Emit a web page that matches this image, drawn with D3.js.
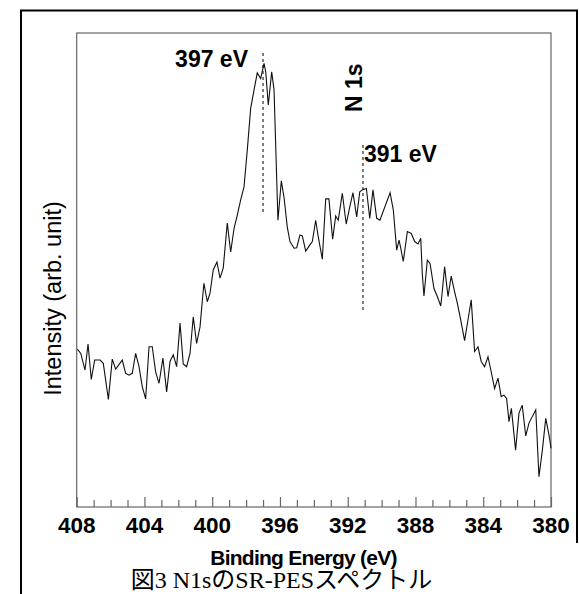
<!DOCTYPE html>
<html>
<head>
<meta charset="utf-8">
<script src="https://cdn.jsdelivr.net/npm/d3@7"></script>
<style>
html,body{margin:0;padding:0;background:#fff;}
svg{display:block;}
</style>
</head>
<body>
<svg id="chart" width="579" height="594"></svg>
<script>
// Binding energy (eV) of each measured point
const energy = [407.96,407.76,407.51,407.33,407.14,406.94,406.62,406.43,406.13,405.90,
405.70,405.31,405.11,404.91,404.72,404.52,404.32,404.13,403.93,403.73,
403.54,403.34,403.14,402.91,402.69,402.49,402.30,402.10,401.90,401.71,
401.51,401.31,401.12,400.92,400.72,400.49,400.29,400.13,399.94,399.72,
399.54,399.35,399.11,398.91,398.71,398.52,398.32,398.12,397.93,397.73,
397.53,397.34,397.14,396.94,396.84,396.69,396.49,396.35,396.12,395.92,
395.76,395.57,395.41,395.17,395.01,394.82,394.68,394.48,394.23,394.09,
393.89,393.74,393.50,393.30,393.11,392.89,392.71,392.56,392.32,392.09,
391.88,391.69,391.47,391.29,391.14,390.90,390.70,390.51,390.29,390.10,
389.50,389.31,389.11,388.97,388.87,388.72,388.48,388.25,388.05,387.85,
387.69,387.60,387.50,387.30,387.14,386.91,386.71,386.51,386.42,386.28,
386.18,386.08,385.89,385.69,385.53,385.33,385.10,384.90,384.71,384.51,
384.31,384.12,383.92,383.72,383.53,383.33,383.13,382.94,382.78,382.62,
382.48,382.34,382.09,381.89,381.70,381.49,381.30,380.90,380.71,380.51,
380.31,380.12,380.00];
// Intensity (arb. unit)
const intensity = [33.3,32.4,28.9,34.4,26.9,31.0,31.0,30.3,22.7,31.2,
29.1,31.0,28.2,27.8,28.2,32.4,29.6,25.4,22.8,33.8,
33.8,28.5,26.1,31.4,24.3,30.7,32.1,29.6,38.8,30.2,
29.6,32.4,40.1,34.5,38.0,47.2,43.3,45.1,50.0,51.7,
48.3,50.4,59.9,53.8,58.8,61.6,64.8,67.6,75.3,84.1,
88.0,91.6,90.4,93.6,91.8,84.8,91.8,88.0,60.5,68.8,
65.3,59.1,56.0,54.6,54.7,57.4,57.2,54.0,55.3,56.0,
60.5,57.0,52.3,65.0,65.0,56.5,61.4,60.5,66.2,59.7,
63.3,66.3,61.2,66.5,66.9,67.2,60.9,66.9,60.9,60.5,
66.3,62.7,54.2,56.3,54.6,51.8,58.1,57.7,56.0,55.5,
56.7,49.3,44.5,52.1,51.4,46.1,44.4,42.4,45.4,50.7,
47.5,44.4,48.7,45.4,43.0,39.5,35.1,39.5,43.7,32.8,
33.8,30.7,29.6,31.7,28.5,25.0,27.2,23.3,23.6,22.9,
18.0,20.8,12.0,19.8,21.5,15.0,17.7,20.5,6.4,12.0,
18.7,15.2,12.4];
const xTickLabels = [408,404,400,396,392,388,384,380];
const peakLabels = ["397 eV","391 eV"];
const peakEnergies = [397, 391.1];
const xLabel = "Binding Energy (eV)";
const yLabel = "Intensity (arb. unit)";
const specLabel = "N 1s";
const caption = "図3 N1sのSR-PESスペクトル";

const svg = d3.select("#chart");
const L = 76.7, R = 551, T = 33, B = 507;
const x = d3.scaleLinear().domain([408, 380]).range([L, R]);
const y = d3.scaleLinear().domain([0, 100]).range([B, T]);

// outer frame
svg.append("path").attr("d", "M21,594 L21,10.5 L577,10.5 L577,543")
  .attr("fill", "none").attr("stroke", "#000").attr("stroke-width", 2);

// plot box
svg.append("rect").attr("x", L).attr("y", T).attr("width", R - L).attr("height", B - T)
  .attr("fill", "none").attr("stroke", "#666").attr("stroke-width", 1.2);

// ticks (inside, pointing up)
const minor = d3.range(380, 409, 1);
const axis = d3.axisBottom(x).tickValues(minor).tickSize(0).tickFormat("");
const gx = svg.append("g").attr("transform", `translate(0,${B})`).call(axis);
gx.select(".domain").remove();
gx.selectAll(".tick").append("line")
  .attr("y1", 0).attr("y2", d => (d % 4 === 0 ? -10 : -7))
  .attr("stroke", "#666").attr("stroke-width", 1.2);

svg.append("g").selectAll("text").data(xTickLabels).join("text")
  .attr("x", d => x(d)).attr("y", 532.5)
  .attr("text-anchor", "middle")
  .attr("font-family", "Liberation Sans, Arial, sans-serif")
  .attr("font-weight", "bold").attr("font-size", 22.5)
  .text(d => d);

svg.append("text").attr("x", 303.5).attr("y", 565)
  .attr("text-anchor", "middle")
  .attr("font-family", "Liberation Sans, Arial, sans-serif")
  .attr("font-weight", "bold").attr("font-size", 21)
  .attr("letter-spacing", -0.75)
  .text(xLabel);

svg.append("text").attr("transform", "translate(61,298.5) rotate(-90)")
  .attr("text-anchor", "middle")
  .attr("font-family", "Liberation Sans, Arial, sans-serif")
  .attr("font-size", 23.5)
  .text(yLabel);

svg.append("text").attr("x", 281.5).attr("y", 588)
  .attr("text-anchor", "middle")
  .attr("font-family", "Liberation Serif, Times New Roman, Noto Sans CJK JP, serif")
  .attr("font-size", 24)
  .text(caption);

// spectrum
const pts = energy.map((e, i) => [e, intensity[i]]);
svg.append("path").datum(pts)
  .attr("fill", "none").attr("stroke", "#111").attr("stroke-width", 1.1)
  .attr("d", d3.line().x(d => x(d[0])).y(d => y(d[1])));

// dashed markers
const dashY = [[53, 215], [145, 310]];
svg.append("g").selectAll("line").data(peakEnergies).join("line")
  .attr("x1", d => x(d)).attr("x2", d => x(d))
  .attr("y1", (d, i) => dashY[i][0]).attr("y2", (d, i) => dashY[i][1])
  .attr("stroke", "#000").attr("stroke-width", 1).attr("stroke-dasharray", "3,3");

svg.append("text").attr("x", 248).attr("y", 66.5).attr("text-anchor", "end")
  .attr("font-family", "Liberation Sans, Arial, sans-serif")
  .attr("font-weight", "bold").attr("font-size", 23)
  .text(peakLabels[0]);
svg.append("text").attr("x", 364).attr("y", 161.5).attr("text-anchor", "start")
  .attr("font-family", "Liberation Sans, Arial, sans-serif")
  .attr("font-weight", "bold").attr("font-size", 23)
  .text(peakLabels[1]);

svg.append("text").attr("transform", "translate(361.5,112) rotate(-90)")
  .attr("text-anchor", "start")
  .attr("font-family", "Liberation Sans, Arial, sans-serif")
  .attr("font-weight", "bold").attr("font-size", 23)
  .text(specLabel);
</script>
</body>
</html>
